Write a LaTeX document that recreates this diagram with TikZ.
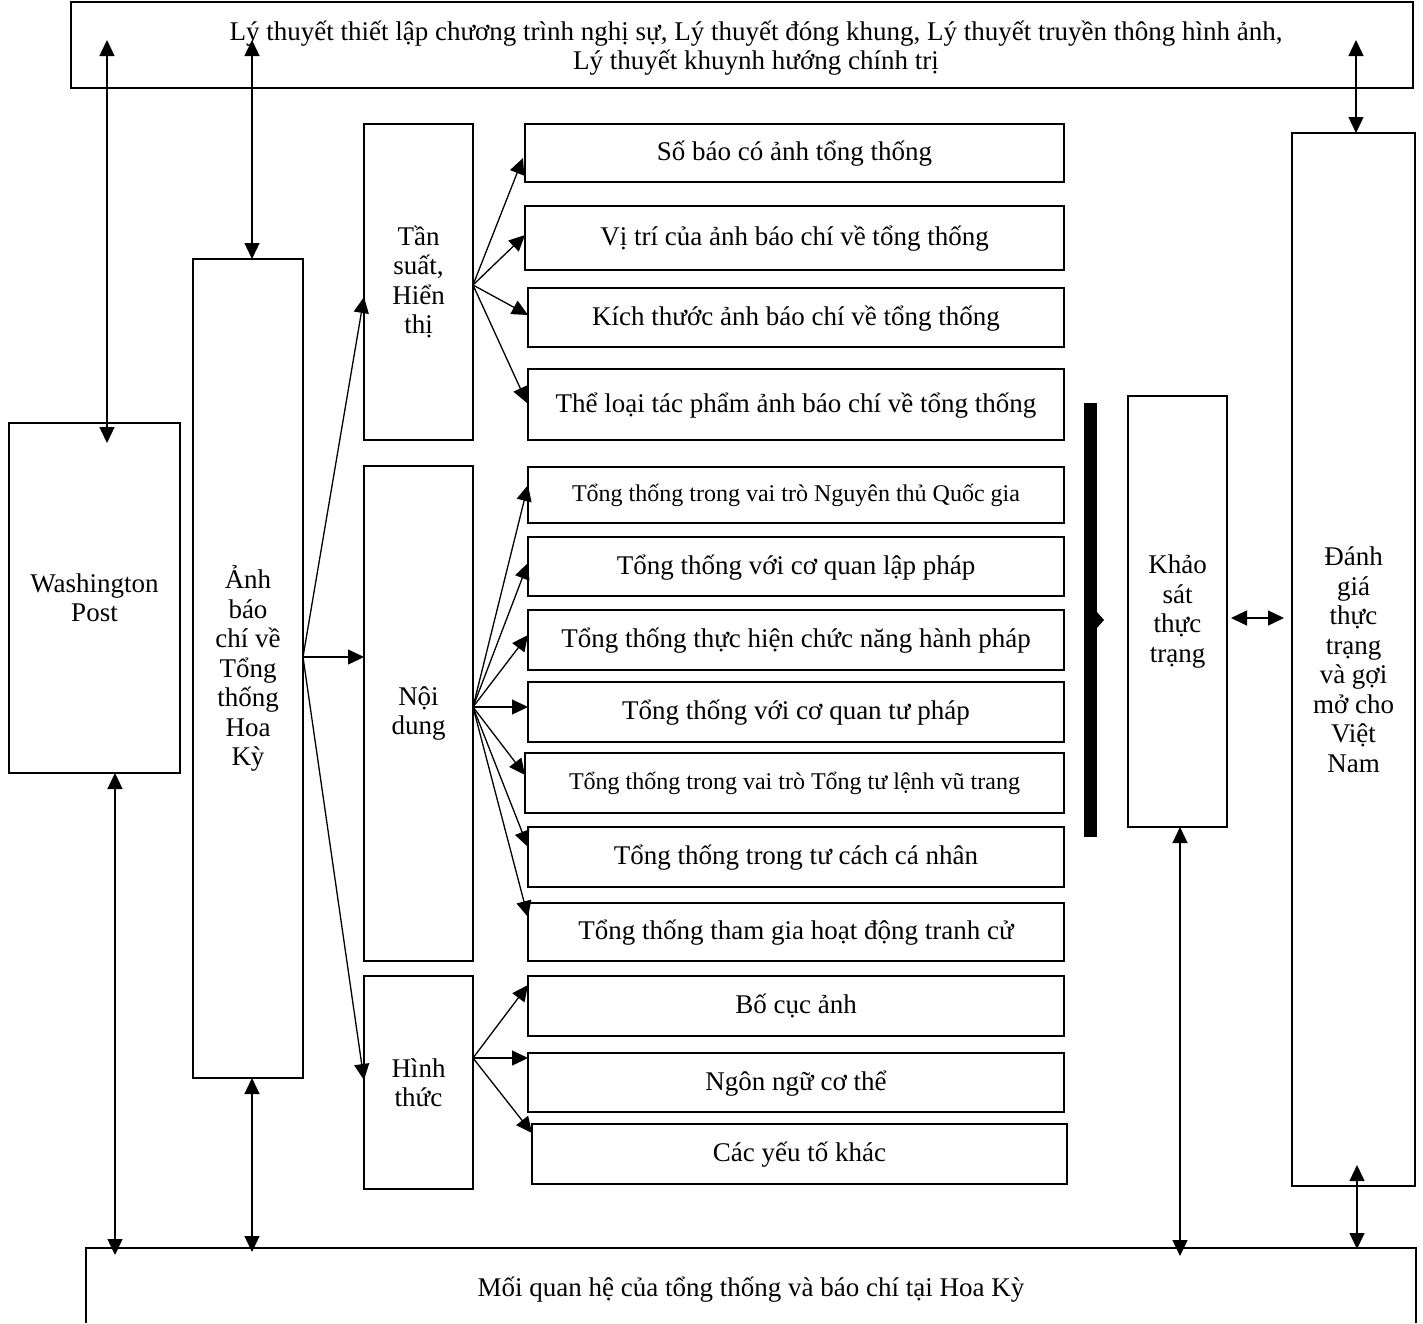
\documentclass[tikz,border=0pt]{standalone}
\usepackage{fontspec}
\setmainfont{Liberation Serif}
\usetikzlibrary{arrows.meta}
\begin{document}
\begin{tikzpicture}[x=1pt,y=-1pt,
  box/.style={draw, line width=1.3pt, inner sep=0pt, outer sep=0pt, align=center,
    font=\fontsize{27}{29.5}\selectfont},
  row/.style={box, text height=19pt, text depth=4pt},
  smalltxt/.style={font=\fontsize{24}{28}\selectfont, text height=17pt, text depth=4pt},
  txt/.style={align=center, inner sep=0pt, font=\fontsize{27}{29.5}\selectfont},
  conn/.style={line width=1.3pt, -{Triangle[length=16pt,width=15pt]}},
  dbl/.style={line width=1.3pt, {Triangle[length=16pt,width=15pt]}-{Triangle[length=16pt,width=15pt]}}]
\useasboundingbox (0,0) rectangle (1423,1323);

% top box
\node[box, minimum width=1342pt, minimum height=86pt] (top) at (742,45) {};
\node[txt] (toptext) at (756,48)
  {Lý thuyết thiết lập chương trình nghị sự, Lý thuyết đóng khung, Lý thuyết truyền thông hình ảnh,\\Lý thuyết khuynh hướng chính trị};

% left column
\node[box, minimum width=171pt, minimum height=350pt] (wp) at (94.5,598) {Washington\\Post};
\node[box, minimum width=110pt, minimum height=819pt] (anh) at (248,668.5) {Ảnh\\báo\\chí về\\Tổng\\thống\\Hoa\\Kỳ};

% middle column
\node[box, minimum width=109pt, minimum height=316pt] (ts) at (418.5,282) {Tần\\suất,\\Hiển\\thị};
\node[box, minimum width=109pt, minimum height=495pt] (nd) at (418.5,713.5) {Nội\\dung};
\node[box, minimum width=109pt, minimum height=213pt] (ht) at (418.5,1082.5) {Hình\\thức};

% right boxes
\node[row, minimum width=539pt, minimum height=58pt] (r1) at (794.5,153) {Số báo có ảnh tổng thống};
\node[row, minimum width=539pt, minimum height=64pt] (r2) at (794.5,238) {Vị trí của ảnh báo chí về tổng thống};
\node[row, minimum width=536pt, minimum height=59pt] (r3) at (796,317.5) {Kích thước ảnh báo chí về tổng thống};
\node[row, minimum width=536pt, minimum height=71pt] (r4) at (796,404.5) {Thể loại tác phẩm ảnh báo chí về tổng thống};
\node[row, smalltxt, minimum width=536pt, minimum height=56pt] (r5) at (796,495) {Tổng thống trong vai trò Nguyên thủ Quốc gia};
\node[row, minimum width=536pt, minimum height=59pt] (r6) at (796,566.5) {Tổng thống với cơ quan lập pháp};
\node[row, minimum width=536pt, minimum height=60pt] (r7) at (796,640) {Tổng thống thực hiện chức năng hành pháp};
\node[row, minimum width=536pt, minimum height=60pt] (r8) at (796,712) {Tổng thống với cơ quan tư pháp};
\node[row, smalltxt, minimum width=539pt, minimum height=60pt] (r9) at (794.5,783) {Tổng thống trong vai trò Tổng tư lệnh vũ trang};
\node[row, minimum width=536pt, minimum height=60pt] (r10) at (796,857) {Tổng thống trong tư cách cá nhân};
\node[row, minimum width=536pt, minimum height=58pt] (r11) at (796,932) {Tổng thống tham gia hoạt động tranh cử};
\node[row, minimum width=536pt, minimum height=60pt] (r12) at (796,1006) {Bố cục ảnh};
\node[row, minimum width=536pt, minimum height=59pt] (r13) at (796,1082.5) {Ngôn ngữ cơ thể};
\node[row, minimum width=535pt, minimum height=60pt] (r14) at (799.5,1154) {Các yếu tố khác};

% thick bar
\fill (1084,403) rectangle (1097,837);
\fill (1096,611) -- (1104,620) -- (1096,629) -- cycle;

% survey and evaluation
\node[box, minimum width=99pt, minimum height=431pt] (ks) at (1177.5,611.5) {Khảo\\sát\\thực\\trạng};
\node[box, minimum width=123pt, minimum height=1053pt] (dg) at (1353.5,659.5) {Đánh\\giá\\thực\\trạng\\và gợi\\mở cho\\Việt\\Nam};

% bottom box (open at the bottom edge of the picture)
\node[txt] (bot) at (751,1290) {Mối quan hệ của tổng thống và báo chí tại Hoa Kỳ};
\draw[line width=1.3pt] (86,1323) -- (86,1248) -- (1416,1248) -- (1416,1323);

% connector end points
\coordinate (t1) at (107,40);   \coordinate (w1) at (107,443);
\coordinate (t2) at (252,40);   \coordinate (a1) at (252,259);
\coordinate (t3) at (1356,40);  \coordinate (d1) at (1356,133);
\coordinate (w2) at (115,773);  \coordinate (b1) at (115,1255);
\coordinate (a2) at (252,1078); \coordinate (b2) at (252,1252);
\coordinate (k1) at (1180,827); \coordinate (b3) at (1180,1256);
\coordinate (d2) at (1357,1165);\coordinate (b4) at (1357,1249);
\coordinate (k2) at (1231,618); \coordinate (d3) at (1284,618);

\draw[dbl] (t1) -- (w1);
\draw[dbl] (t2) -- (a1);
\draw[dbl] (t3) -- (d1);
\draw[dbl] (w2) -- (b1);
\draw[dbl] (a2) -- (b2);
\draw[dbl] (k1) -- (b3);
\draw[dbl] (d2) -- (b4);
\draw[dbl] (k2) -- (d3);

% fan from Anh
\coordinate (ao) at (303,657);
\draw[conn] (ao) -- (364,297);
\draw[conn] (ao) -- (nd.west |- ao);
\draw[conn] (ao) -- (364,1080);

% fan from Tan suat
\coordinate (to) at (473,285);
\draw[conn] (to) -- (523,158);
\draw[conn] (to) -- (525,235);
\draw[conn] (to) -- (528,315);
\draw[conn] (to) -- (527,403);

% fan from Noi dung
\coordinate (no) at (473,707);
\draw[conn] (no) -- (528,485);
\draw[conn] (no) -- (528,563);
\draw[conn] (no) -- (528,635);
\draw[conn] (no) -- (528,707);
\draw[conn] (no) -- (525,775);
\draw[conn] (no) -- (528,847);
\draw[conn] (no) -- (528,917);

% fan from Hinh thuc
\coordinate (ho) at (473,1058);
\draw[conn] (ho) -- (528,985);
\draw[conn] (ho) -- (528,1058);
\draw[conn] (ho) -- (532,1133);
\end{tikzpicture}
\end{document}
